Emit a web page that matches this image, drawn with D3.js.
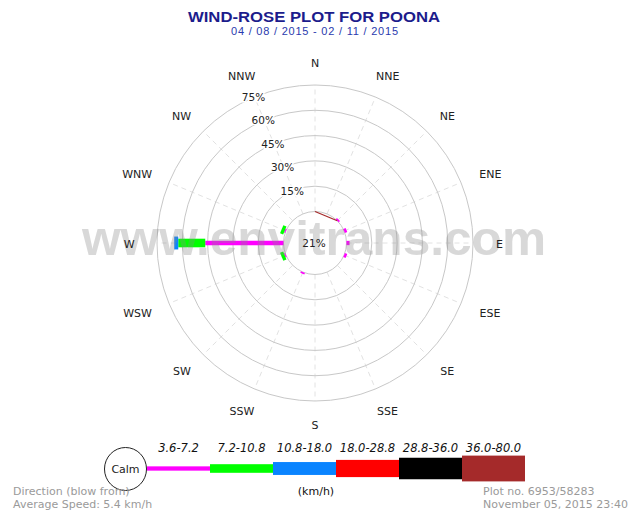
<!DOCTYPE html>
<html lang="en">
<head>
    <meta charset="utf-8">
    <style type="text/css">
        body { margin: 0; background: #fff; }
        text { font-family: "DejaVu Sans", Verdana, sans-serif; }
        .ring { fill: none; stroke: #c8c8c8; stroke-width: 1px; }
        .spoke { stroke: #e2e2e2; stroke-width: 1px; stroke-dasharray: 5,4; }
        .dir { font-size: 11px; fill: #222; }
        .pct { font-size: 10.5px; fill: #222; stroke: #fff; stroke-width: 3px; paint-order: stroke; }
        .foot { font-size: 11px; fill: #9a9a9a; }
    </style>
</head>
<body>
<svg width="635" height="513"></svg>

<script src="https://cdn.jsdelivr.net/npm/d3@7"></script>
<script type="text/javascript">

    // 16 compass points, clockwise from north (direction the wind blows from)
    var directions = ["N", "NNE", "NE", "ENE", "E", "ESE", "SE", "SSE",
                      "S", "SSW", "SW", "WSW", "W", "WNW", "NW", "NNW"];

    // speed classes (km/h)
    var speedClasses = ["3.6-7.2", "7.2-10.8", "10.8-18.0", "18.0-28.8", "28.8-36.0", "36.0-80.0"];
    var classColors = ["#ff00ff", "#00ff00", "#0a84ff", "#ff0000", "#000000", "#a52a2a"];

    // frequency (%) per direction, one array per speed class
    var s3_6  = [0, 0, 1.0, 1.5, 1.8, 1.5, 0, 0, 0, 1.0, 0, 0.7, 46.4, 0.7, 0, 0];
    var s7_2  = [0, 0, 0,   0,   0,   0,   0, 0, 0, 0,   0, 2.0, 16.0, 2.0, 0, 0];
    var s10_8 = [0, 0, 0,   0,   0,   0,   0, 0, 0, 0,   0, 0,   2.4,  0,   0, 0];
    var s18_0 = [0, 0, 0,   0,   0,   0,   0, 0, 0, 0,   0, 0,   0,    0,   0, 0];
    var s28_8 = [0, 0, 0,   0,   0,   0,   0, 0, 0, 0,   0, 0,   0,    0,   0, 0];
    var s36_0 = [0, 0, 0,   0,   0,   0,   0, 0, 0, 0,   0, 0,   0,    0,   0, 0];
    var series = [s3_6, s7_2, s10_8, s18_0, s28_8, s36_0];

    var calmPct = 21;
    var ringTicks = [15, 30, 45, 60, 75];
    var strayLine = ["N", "NE"];   // thin brown chord drawn on the calm circle in the original

    var svg = d3.select("svg"),
        cx = 315,
        cy = 243;

    var r = d3.scaleLinear().domain([0, 75]).range([31.5, 158]);
    var angle = d3.scalePoint().domain(directions).range([0, 2 * Math.PI * 15 / 16]);
    var barWidth = d3.scaleOrdinal().domain(speedClasses).range([4.3, 8.6, 12.9, 17.2, 21.5, 25.8]);
    var color = d3.scaleOrdinal().domain(speedClasses).range(classColors);

    function px(a, rad) { return cx + rad * Math.sin(a); }
    function py(a, rad) { return cy - rad * Math.cos(a); }

    // title
    svg.append("text")
        .attr("x", 314).attr("y", 21.5)
        .attr("text-anchor", "middle")
        .attr("textLength", 252).attr("lengthAdjust", "spacingAndGlyphs")
        .style("font-family", "'Liberation Sans', Arial, sans-serif")
        .style("font-weight", "bold").style("font-size", "14.5px")
        .style("fill", "#1c1c8c")
        .text("WIND-ROSE PLOT FOR POONA");

    svg.append("text")
        .attr("x", 314.5).attr("y", 34.5)
        .attr("text-anchor", "middle")
        .attr("textLength", 167).attr("lengthAdjust", "spacing")
        .style("font-family", "'Liberation Sans', Arial, sans-serif")
        .style("font-size", "11px")
        .style("fill", "#2a3aae")
        .text("04 / 08 / 2015 - 02 / 11 / 2015");

    var plot = svg.append("g");

    // spokes
    plot.selectAll(".spoke")
        .data(directions)
        .enter().append("line")
        .attr("class", "spoke")
        .attr("x1", function (d) { return px(angle(d), r(0)); })
        .attr("y1", function (d) { return py(angle(d), r(0)); })
        .attr("x2", function (d) { return px(angle(d), r(75)); })
        .attr("y2", function (d) { return py(angle(d), r(75)); });

    // rings (plus the calm circle)
    plot.selectAll(".ring")
        .data([0].concat(ringTicks))
        .enter().append("circle")
        .attr("class", "ring")
        .attr("cx", cx).attr("cy", cy)
        .attr("r", function (d) { return r(d); });

    // stacked bars as thick radial strokes
    var bars = [];
    directions.forEach(function (dir, i) {
        var cum = 0;
        speedClasses.forEach(function (cls, k) {
            var v = series[k][i];
            if (v > 0) bars.push({ dir: dir, cls: cls, from: cum, to: cum + v });
            cum += v;
        });
    });

    plot.selectAll(".bar")
        .data(bars)
        .enter().append("line")
        .attr("class", "bar")
        .attr("x1", function (d) { return px(angle(d.dir), r(d.from)); })
        .attr("y1", function (d) { return py(angle(d.dir), r(d.from)); })
        .attr("x2", function (d) { return px(angle(d.dir), r(d.to)); })
        .attr("y2", function (d) { return py(angle(d.dir), r(d.to)); })
        .style("stroke", function (d) { return color(d.cls); })
        .style("stroke-width", function (d) { return barWidth(d.cls); });

    plot.append("line")
        .attr("x1", px(angle(strayLine[0]), r(0))).attr("y1", py(angle(strayLine[0]), r(0)))
        .attr("x2", px(angle(strayLine[1]), r(0))).attr("y2", py(angle(strayLine[1]), r(0)))
        .style("stroke", "#a52a2a").style("stroke-width", 1.2);

    // watermark
    svg.append("text")
        .attr("x", 314).attr("y", 255)
        .attr("text-anchor", "middle")
        .attr("textLength", 464).attr("lengthAdjust", "spacingAndGlyphs")
        .style("font-family", "'Liberation Sans', Arial, sans-serif")
        .style("font-weight", "bold").style("font-size", "48px")
        .style("fill", "#8a8a8a").style("fill-opacity", 0.33)
        .text("www.envitrans.com");

    // ring labels along the NNW line
    var labelAngle = -Math.PI / 8;
    svg.selectAll(".pct")
        .data(ringTicks)
        .enter().append("text")
        .attr("class", "pct")
        .attr("x", function (d) { return px(labelAngle, r(d)) - 1; })
        .attr("y", function (d) { return py(labelAngle, r(d)); })
        .attr("text-anchor", "middle")
        .attr("dominant-baseline", "central")
        .text(function (d) { return d + "%"; });

    svg.append("text")
        .attr("class", "pct")
        .attr("x", cx - 1).attr("y", cy)
        .attr("text-anchor", "middle")
        .attr("dominant-baseline", "central")
        .style("stroke", "none")
        .text(calmPct + "%");

    // compass labels, pushed outward by part of their own width
    svg.selectAll(".dir")
        .data(directions)
        .enter().append("text")
        .attr("class", "dir")
        .attr("y", function (d) { return py(angle(d), 181) + 1; })
        .attr("text-anchor", "middle")
        .attr("dominant-baseline", "central")
        .text(function (d) { return d; })
        .attr("x", function (d) {
            var w = this.getComputedTextLength();
            return px(angle(d), 182) + Math.sin(angle(d)) * w * 0.35;
        });

    // legend
    var legY = 468.5;
    var legX = d3.scaleBand().domain(speedClasses).range([147, 525]);
    var legend = svg.append("g");

    legend.selectAll("rect")
        .data(speedClasses)
        .enter().append("rect")
        .attr("x", function (d) { return legX(d); })
        .attr("y", function (d) { return legY - barWidth(d) / 2; })
        .attr("width", legX.bandwidth())
        .attr("height", function (d) { return barWidth(d); })
        .style("fill", function (d) { return color(d); });

    legend.selectAll(".leglab")
        .data(speedClasses)
        .enter().append("text")
        .attr("class", "leglab")
        .attr("x", function (d) { return legX(d) + legX.bandwidth() / 2; })
        .attr("y", 452)
        .attr("text-anchor", "middle")
        .style("font-size", "11.5px").style("font-style", "italic").style("fill", "#111")
        .text(function (d) { return d; });

    legend.append("ellipse")
        .attr("cx", 125.5).attr("cy", 469)
        .attr("rx", 21).attr("ry", 21.5)
        .style("fill", "#fff").style("stroke", "#222").style("stroke-width", 1);

    legend.append("text")
        .attr("x", 125.5).attr("y", 469)
        .attr("text-anchor", "middle").attr("dominant-baseline", "central")
        .style("font-size", "11px").style("fill", "#222")
        .text("Calm");

    legend.append("text")
        .attr("x", 316).attr("y", 495)
        .attr("text-anchor", "middle")
        .style("font-size", "11px").style("fill", "#111")
        .text("(km/h)");

    // footer
    svg.append("text").attr("class", "foot").attr("x", 13).attr("y", 495).text("Direction (blow from)");
    svg.append("text").attr("class", "foot").attr("x", 13).attr("y", 507.5).text("Average Speed: 5.4 km/h");
    svg.append("text").attr("class", "foot").attr("x", 483).attr("y", 495).text("Plot no. 6953/58283");
    svg.append("text").attr("class", "foot").attr("x", 483).attr("y", 507.5).text("November 05, 2015 23:40");

</script>
</body>
</html>
